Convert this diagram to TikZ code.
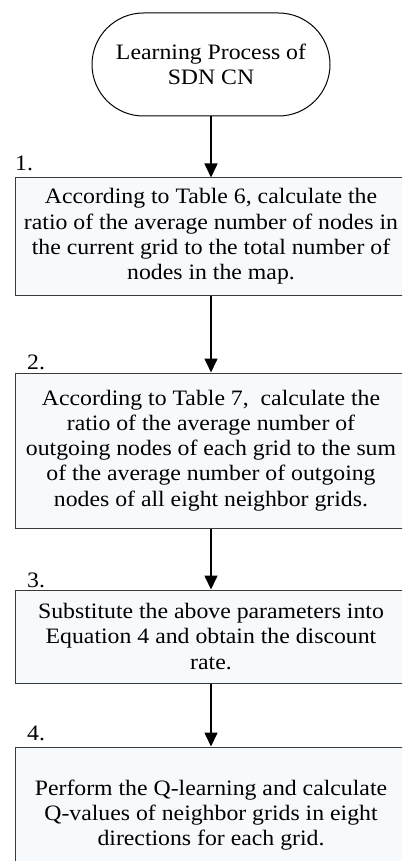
\documentclass[tikz,border=0pt]{standalone}
\usepackage{fontspec}
\setmainfont{Liberation Serif}[FakeStretch=1.08]
\usetikzlibrary{arrows.meta,shapes.misc}
\definecolor{boxfill}{HTML}{F6FAFD}
\definecolor{boxline}{HTML}{3A3A3A}
\tikzset{
  stepbox/.style={draw=boxline, line width=1pt, fill=boxfill, minimum width=392pt, inner sep=0pt, align=center, font=\fontsize{22}{25.2}\selectfont},
  termbox/.style={draw=black, line width=1pt, rounded rectangle, minimum width=238pt, minimum height=103pt, inner sep=0pt, align=center, font=\fontsize{22}{25.6}\selectfont},
  flow/.style={line width=1.6pt, -{Triangle[length=14pt,width=13pt]}},
  numlabel/.style={anchor=west, inner sep=0pt, font=\fontsize{22}{22}\selectfont}
}
\begin{document}
\begin{tikzpicture}[x=1pt,y=-1pt]
\useasboundingbox (0,0) rectangle (402,861);
\clip (0,0) rectangle (402,861);
\node[termbox] (t) at (211,64.5) {Learning Process of\\SDN CN};
\node[stepbox, minimum height=117pt] (b1) at (211,236.5) {According to Table 6, calculate the\\ratio of the average number of nodes in\\the current grid to the total number of\\nodes in the map.};
\node[stepbox, minimum height=155pt] (b2) at (211,450.5) {According to Table 7,~ calculate the\\ratio of the average number of\\outgoing nodes of each grid to the sum\\of the average number of outgoing\\nodes of all eight neighbor grids.};
\node[stepbox, minimum height=93pt] (b3) at (211,636.5) {Substitute the above parameters into\\Equation 4 and obtain the discount\\rate.};
\node[stepbox, minimum height=136pt] (b4) at (211,815) {Perform the Q-learning and calculate\\Q-values of neighbor grids in eight\\directions for each grid.};
\node[numlabel] (n1) at (15,163) {1.};
\node[numlabel] (n2) at (27,362) {2.};
\node[numlabel] (n3) at (27,580) {3.};
\node[numlabel] (n4) at (27,733) {4.};
\draw[flow] (t.south) -- (b1.north);
\draw[flow] (b1.south) -- (b2.north);
\draw[flow] (b2.south) -- (b3.north);
\draw[flow] (b3.south) -- (b4.north);
\end{tikzpicture}
\end{document}
